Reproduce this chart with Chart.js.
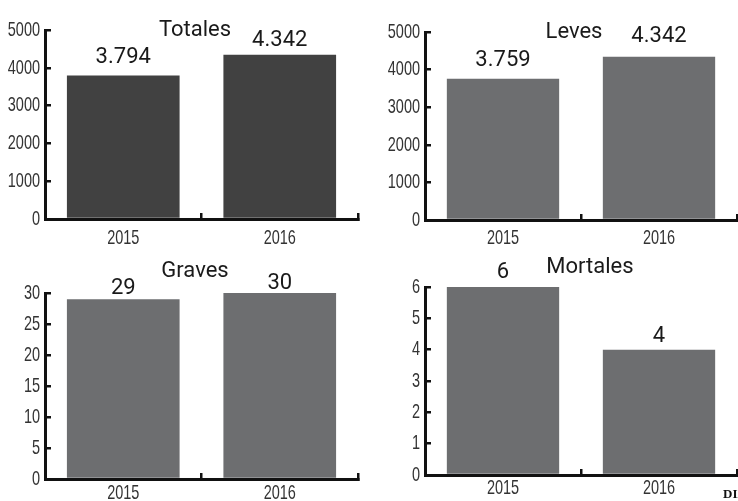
<!DOCTYPE html>
<html>
<head>
<meta charset="utf-8">
<script src="https://cdn.jsdelivr.net/npm/chart.js@4.4.1/dist/chart.umd.min.js"></script>
<style>
    html, body { margin: 0; padding: 0; background: #fff; overflow: hidden; }
    body { width: 738px; height: 501px; position: relative; }
    .panel { position: absolute; }
    #credit {
        position: absolute; left: 723px; top: 486px; white-space: nowrap;
        font: bold 13px "Liberation Serif", serif; color: #111;
    }
</style>
</head>
<body>
<div class="panel" style="left:0;top:0;width:369px;height:250px"><canvas id="totalesChart"></canvas></div>
<div class="panel" style="left:369px;top:0;width:369px;height:250px"><canvas id="levesChart"></canvas></div>
<div class="panel" style="left:0;top:250px;width:369px;height:251px"><canvas id="gravesChart"></canvas></div>
<div class="panel" style="left:369px;top:250px;width:369px;height:251px"><canvas id="mortalesChart"></canvas></div>
<div id="credit">DIARIO</div>

<script>
// datos
const years = ['2015', '2016'];
const totales = [3794, 4342];
const leves = [3759, 4342];
const graves = [29, 30];
const mortales = [6, 4];

const TICK_FONT = '21px "Liberation Sans", Arimo, sans-serif';
const LABEL_FONT = '22px Roboto, "Noto Sans", sans-serif';
const SQUEEZE = 0.69; // las etiquetas de los ejes van en letra estrecha

// 3794 -> "3.794"
function fmt(v) {
    return String(v).replace(/\B(?=(\d{3})+(?!\d))/g, '.');
}

function narrowText(ctx, text, x, y, align) {
    ctx.save();
    ctx.translate(x, y);
    ctx.scale(SQUEEZE, 1);
    ctx.textAlign = align;
    ctx.fillText(text, 0, 0);
    ctx.restore();
}

// título, valores encima de las barras y etiquetas de los ejes
const panelText = {
    id: 'panelText',
    afterDraw(chart, args, opts) {
        const ctx = chart.ctx;
        ctx.save();
        ctx.textBaseline = 'middle';

        ctx.fillStyle = '#1a1a1a';
        ctx.textAlign = 'center';
        ctx.font = LABEL_FONT;
        ctx.fillText(opts.title, opts.titleX, opts.titleY);
        const meta = chart.getDatasetMeta(0);
        meta.data.forEach((bar, i) => {
            const v = chart.data.datasets[0].data[i];
            ctx.fillText(fmt(v), bar.x, bar.y - opts.gaps[i]);
        });

        ctx.fillStyle = '#333';
        ctx.font = TICK_FONT;
        const ys = chart.scales.y;
        ys.ticks.forEach((t, i) => {
            narrowText(ctx, String(t.value), ys.right - 5, ys.getPixelForTick(i), 'right');
        });
        const xs = chart.scales.x;
        xs.ticks.forEach((t, i) => {
            narrowText(ctx, chart.data.labels[i], xs.getPixelForTick(i), xs.top + opts.xLabelGap, 'center');
        });
        ctx.restore();
    }
};

function makePanel(id, values, cfg) {
    const ctx = document.getElementById(id).getContext('2d');
    return new Chart(ctx, {
        type: 'bar',
        data: {
            labels: years,
            datasets: [{
                data: values,
                backgroundColor: cfg.color,
                barPercentage: 0.72,
                categoryPercentage: 1
            }]
        },
        options: {
            responsive: true,
            maintainAspectRatio: false,
            animation: false,
            layout: { padding: { top: cfg.top, right: cfg.right, left: 0, bottom: 0 } },
            plugins: {
                legend: { display: false },
                tooltip: { enabled: false },
                panelText: cfg.text
            },
            scales: {
                x: {
                    z: 1,
                    offset: true,
                    grid: { offset: true, drawOnChartArea: false, tickLength: -6, lineWidth: 2.5, color: '#111' },
                    border: { display: true, color: '#111', width: 3 },
                    ticks: { display: false },
                    afterFit(scale) { scale.height = cfg.h - cfg.bottom; }
                },
                y: {
                    z: 1,
                    min: 0,
                    max: cfg.max,
                    ticks: { stepSize: cfg.step, display: false },
                    grid: { drawOnChartArea: false, tickLength: -6, lineWidth: 2.5, color: '#111' },
                    border: { display: true, color: '#111', width: 3 },
                    afterFit(scale) { scale.width = cfg.left; }
                }
            }
        },
        plugins: [panelText]
    });
}

makePanel('totalesChart', totales, {
    color: '#414141', max: 5000, step: 1000, h: 250,
    left: 45, top: 30, right: 11, bottom: 219,
    text: { title: 'Totales', titleX: 195, titleY: 30, gaps: [18, 14], xLabelGap: 19 }
});
makePanel('levesChart', leves, {
    color: '#6d6e70', max: 5000, step: 1000, h: 250,
    left: 56, top: 32, right: 1, bottom: 220,
    text: { title: 'Leves', titleX: 205, titleY: 32, gaps: [18, 20], xLabelGap: 18 }
});
makePanel('gravesChart', graves, {
    color: '#6d6e70', max: 30, step: 5, h: 251,
    left: 45, top: 43, right: 11, bottom: 229,
    text: { title: 'Graves', titleX: 195, titleY: 21, gaps: [11, 10], xLabelGap: 14 }
});
makePanel('mortalesChart', mortales, {
    color: '#6d6e70', max: 6, step: 1, h: 251,
    left: 56, top: 37, right: 1, bottom: 225,
    text: { title: 'Mortales', titleX: 221, titleY: 17, gaps: [15, 13], xLabelGap: 13 }
});
</script>
</body>
</html>
